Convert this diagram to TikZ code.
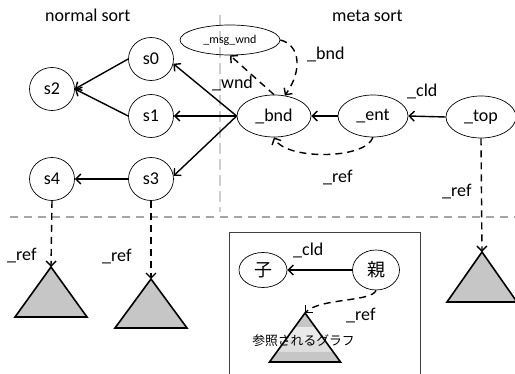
\documentclass[tikz,border=0pt]{standalone}
\usepackage{fontspec}
\setmainfont{Carlito}
\newfontfamily\cjk{Noto Sans CJK JP}
\usetikzlibrary{arrows.meta,shapes.geometric}
\definecolor{trifill}{RGB}{198,198,198}
\definecolor{bandA}{RGB}{234,234,234}
\definecolor{bandB}{RGB}{222,222,222}
\definecolor{vgray}{RGB}{205,205,205}
\definecolor{hgray}{RGB}{166,166,166}
\begin{document}
\begin{tikzpicture}[x=1pt,y=-1pt,
  nd/.style={ellipse,draw,line width=0.7pt,inner sep=0pt,font=\fontsize{18}{20}\selectfont},
  sn/.style={nd,minimum width=45pt,minimum height=43pt},
  en/.style={nd,minimum width=72pt,minimum height=42pt},
  lbl/.style={font=\fontsize{18}{20}\selectfont,anchor=base west,inner sep=0pt},
  arr/.style={line width=1.4pt,-{Straight Barb[length=5pt,width=10pt]}},
  darr/.style={arr,dash pattern=on 7pt off 5pt},
  tri/.style={draw,line width=1.6pt,fill=trifill,line join=miter},
  vline/.style={draw=vgray,line width=1.5pt,dash pattern=on 11pt off 5pt},
  hline/.style={draw=hgray,line width=1.5pt,dash pattern=on 8pt off 6pt}
]
\useasboundingbox (0,0) rectangle (515,374);
\clip (0,0) rectangle (515,374);

% separators
\draw[vline] (220,15) -- (220,212);
\draw[hline] (10,217) -- (515,217);

% titles
\node[lbl] (tn) at (45,22) {normal sort};
\node[lbl] (tm) at (332,22) {meta sort};

% normal sort nodes
\node[sn] (s0) at (151,59) {s0};
\node[sn] (s1) at (151,116) {s1};
\node[sn] (s2) at (52,89) {s2};
\node[sn] (s3) at (151,179) {s3};
\node[sn] (s4) at (52,179) {s4};

% meta sort nodes
\node[nd,minimum width=100pt,minimum height=30pt,font=\fontsize{12}{14}\selectfont] (msg) at (230,40) {\_msg\_wnd};
\node[en,minimum width=74pt] (bnd) at (274,116) {\_bnd};
\node[en,minimum width=70pt] (ent) at (373,116) {\_ent};
\node[en,minimum width=70pt] (top) at (481,117) {\_top};

% triangles (apex coordinates)
\coordinate (t1) at (51,267);
\coordinate (t2) at (151,279);
\coordinate (t3) at (482,252);
\draw[tri] (t1) -- (15,317) -- (87,317) -- cycle;
\draw[tri] (t2) -- (115,328) -- (187,328) -- cycle;
\draw[tri] (t3) -- (447,302) -- (517,302) -- cycle;

% solid arrows
\draw[arr] (s0.west) -- (s2.east);
\draw[arr] (s1.west) -- (s2.east);
\draw[arr] (s3.west) -- (s4.east);
\draw[arr] (bnd.west) -- (s0.-12);
\draw[arr] (bnd.west) -- (s1.east);
\draw[arr] (bnd.west) -- (s3.8);
\draw[arr] (ent.west) -- (bnd.east);
\draw[arr] (top.west) -- (ent.east);

% dashed arrows
\draw[darr] (bnd.north) -- (msg.south);
\draw[darr] (msg.east) .. controls (300,45) and (303,70) .. (bnd.62);
\draw[darr] (ent.south) .. controls (365,160) and (285,160) .. (bnd.south);
\draw[darr] (s4.south) -- (t1);
\draw[darr] (s3.south) -- (t2);
\draw[darr] (top.south) -- (t3);

% labels
\node[lbl] (lw) at (212,89) {\_wnd};
\node[lbl] (lb) at (307,60) {\_bnd};
\node[lbl] (lc) at (407,97) {\_cld};
\node[lbl] (lr1) at (323,183) {\_ref};
\node[lbl] (lr2) at (442,197) {\_ref};
\node[lbl] (lr3) at (7,261) {\_ref};
\node[lbl] (lr4) at (102,262) {\_ref};

% legend box
\draw[line width=0.8pt,draw=black!75] (229,380) -- (229,232) -- (420,232) -- (420,380);
\node[nd,minimum width=48pt,minimum height=35pt,font=\fontsize{18}{20}\selectfont\cjk] (ko) at (263,270) {子};
\node[nd,minimum width=47pt,minimum height=40pt,font=\fontsize{18}{20}\selectfont\cjk] (oya) at (376,270) {親};
\coordinate (t4) at (305,313);
\begin{scope}
  \clip (t4) -- (269.5,362) -- (340.5,362) -- cycle;
  \fill[trifill] (260,305) rectangle (350,327);
  \fill[bandA] (260,327) rectangle (350,340);
  \fill[bandB] (260,340) rectangle (350,352);
  \fill[trifill] (260,352) rectangle (350,366);
\end{scope}
\draw[line width=1.6pt,line join=miter] (t4) -- (269.5,362) -- (340.5,362) -- cycle;
\draw[arr] (oya.west) -- (ko.east);
\draw[darr] (oya.south) .. controls (372,302) and (320,298) .. (t4);
\node[lbl] (lc2) at (293,256) {\_cld};
\node[lbl] (lr5) at (346,321) {\_ref};
\node[font=\fontsize{12.8}{14}\selectfont\cjk,inner sep=0pt] (gl) at (303.5,341) {参照されるグラフ};
\end{tikzpicture}
\end{document}
